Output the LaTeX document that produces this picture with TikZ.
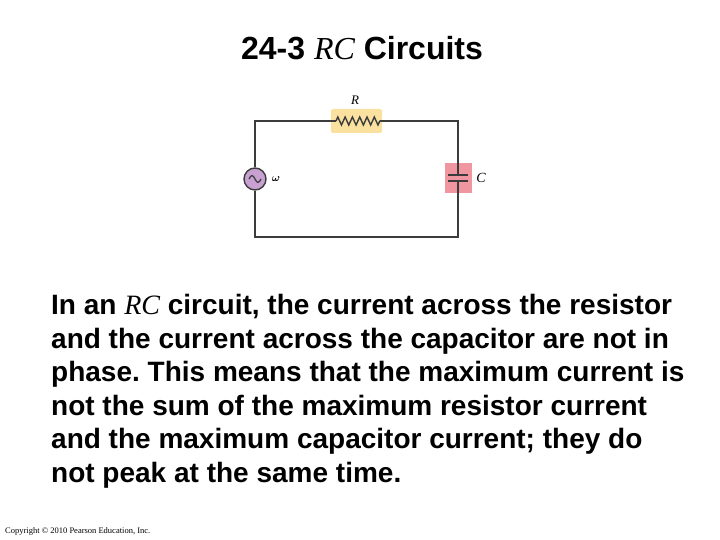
\documentclass[tikz,border=0pt]{standalone}
\usepackage{amsmath}
\usepackage{fontspec}
\setmainfont{Liberation Sans}
\newfontfamily\serif{Liberation Serif}
\usetikzlibrary{decorations.pathmorphing}
\definecolor{resbg}{RGB}{250,225,160}
\definecolor{capbg}{RGB}{240,150,160}
\definecolor{srcbg}{RGB}{200,160,210}
\definecolor{wire}{RGB}{60,60,60}
\tikzset{wirestyle/.style={draw=wire,line width=1.4pt},
 body/.style={font=\bfseries\fontsize{28}{33.6}\selectfont\frenchspacing,inner sep=0pt,align=left}}
\begin{document}
\begin{tikzpicture}[x=1pt,y=-1pt]
\useasboundingbox (0,0) rectangle (720,540);
\node[anchor=base] (title) at (362,60) {\bfseries\fontsize{32}{34}\selectfont 24-3 {\serif\mdseries\itshape RC} Circuits};
\fill[resbg,rounded corners=2pt] (331,109) rectangle (382,133);
\fill[capbg] (445,163) rectangle (472,193);
\coordinate (tl) at (255,121);
\coordinate (tr) at (458,121);
\coordinate (bl) at (255,237);
\coordinate (br) at (458,237);
\coordinate (r1) at (336,121);
\coordinate (r2) at (380,121);
\coordinate (c1) at (458,175.5);
\coordinate (c2) at (458,181.5);
\node[circle,fill=srcbg,draw=wire,line width=1.4pt,minimum size=22pt,inner sep=0pt] (src) at (255,179) {};
\draw[wire,line width=1.2pt] (249,179) sin (252,175.5) cos (255,179) sin (258,182.5) cos (261,179);
\draw[wirestyle] (src.north) -- (tl) -- (r1);
\draw[wirestyle,decorate,decoration={zigzag,segment length=7.3pt,amplitude=4pt}] (r1) -- (r2);
\draw[wirestyle] (r2) -- (tr) -- (c1);
\draw[wirestyle] (c2) -- (br) -- (bl) -- (src.south);
\draw[wire,line width=2pt] (448,175.5) -- (468,175.5) (448,181.5) -- (468,181.5);
\node (Rl) at (355,100) {\serif\itshape\fontsize{13}{13}\selectfont R};
\node (Cl) at (481,178) {\serif\itshape\fontsize{14}{14}\selectfont C};
\node (wl) at (276,179) {\fontsize{11}{11}\selectfont $\boldsymbol{\omega}$};
\node[body,anchor=north west] (txt) at (51,294) {In an {\serif\mdseries\itshape RC} circuit, the current across the resistor\\and the current across the capacitor are not in\\phase. This means that the maximum current is\\not the sum of the maximum resistor current\\and the maximum capacitor current; they do\\not peak at the same time.};
\node[anchor=west,inner sep=0pt] (copy) at (5,531) {\serif\fontsize{8.5}{9}\selectfont Copyright © 2010 Pearson Education, Inc.};
\end{tikzpicture}
\end{document}
